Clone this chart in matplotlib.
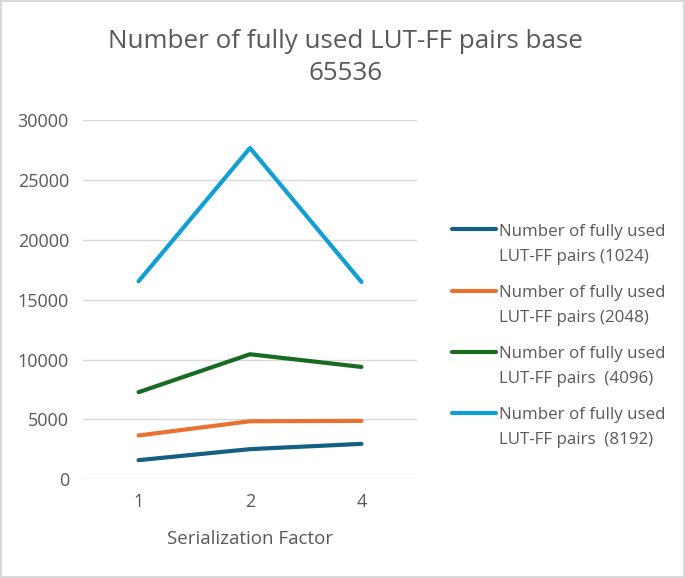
import matplotlib.pyplot as plt
from matplotlib.patches import Rectangle
from matplotlib.legend_handler import HandlerLine2D
import numpy as np

plt.rcParams['font.family'] = ['Open Sans', 'DejaVu Sans']

factors = ["1", "2", "4"]
labels = ["Number of fully used\nLUT-FF pairs (1024)",
          "Number of fully used\nLUT-FF pairs (2048)",
          "Number of fully used\nLUT-FF pairs  (4096)",
          "Number of fully used\nLUT-FF pairs  (8192)"]
pairs_1024 = [1590, 2510, 2950]
pairs_2048 = [3650, 4840, 4870]
pairs_4096 = [7270, 10440, 9380]
pairs_8192 = [16540, 27680, 16480]
colors = ["#156082", "#E97132", "#196B24", "#0F9ED5"]


class TopLineHandler(HandlerLine2D):
    # put the legend line next to the first row of the label, like Excel does
    def create_artists(self, legend, orig_handle, xdescent, ydescent, width, height,
                       fontsize, trans):
        artists = super().create_artists(legend, orig_handle, xdescent, ydescent,
                                         width, height, fontsize, trans)
        for a in artists:
            a.set_ydata(np.asarray(a.get_ydata()) + 10.8)
        return artists


fig = plt.figure(figsize=(6.85, 5.78), dpi=100)
ax = fig.add_axes([0.121, 0.171, 0.488, 0.621])

#-----Lines-----
x = np.arange(len(factors))
series = [pairs_1024, pairs_2048, pairs_4096, pairs_8192]
lines = []
for vals, lab, col in zip(series, labels, colors):
    ln, = ax.plot(x, vals, color=col, linewidth=3, label=lab, solid_capstyle='round')
    lines.append(ln)

#-----Axes style-----
ax.set_xlim(-0.5, len(factors) - 0.5)
ax.set_ylim(0, 30000)
ax.set_yticks(np.arange(0, 30001, 5000))
ax.set_xticks(x)
ax.set_xticklabels(factors)
ax.tick_params(length=0, labelsize=13, colors="#595959", pad=10)
ax.grid(axis='y', color="#d9d9d9", linewidth=1)
ax.set_axisbelow(True)
for s in ax.spines.values():
    s.set_visible(False)
ax.set_xlabel("Serialization Factor", fontsize=13.5, color="#595959", labelpad=14)

fig.text(0.504, 0.901, "Number of fully used LUT-FF pairs base\n65536", fontsize=18.7,
         color="#595959", ha='center', va='center', linespacing=1.35)

leg = fig.legend(lines, labels, loc='center left', bbox_to_anchor=(0.637, 0.4187),
                 frameon=False, fontsize=12.2, labelcolor="#595959",
                 handlelength=2.65, handletextpad=0.15, labelspacing=1.15,
                 handler_map={ln: TopLineHandler() for ln in lines})
for t in leg.get_texts():
    t.set_linespacing(1.8)

fig.patches.append(Rectangle((0.002, 0.002), 0.996, 0.996, transform=fig.transFigure,
                             fill=False, edgecolor="#d9d9d9", linewidth=1.5))

fig.savefig("out.png", dpi=100)
